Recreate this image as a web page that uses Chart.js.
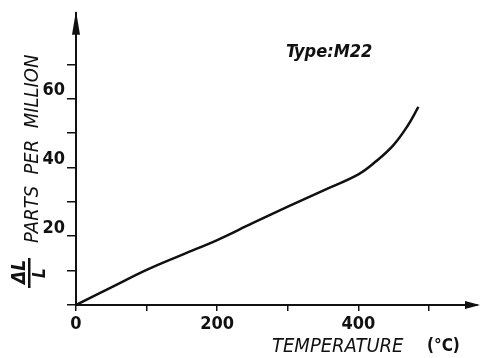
<!DOCTYPE html>
<html>
<head>
<meta charset="utf-8">
<script src="https://cdn.jsdelivr.net/npm/chart.js@4"></script>
<style>
  html, body { margin: 0; padding: 0; background: #fff; }
  #wrap { width: 481px; height: 358px; }
</style>
</head>
<body>
<div id="wrap"><canvas id="chart"></canvas></div>
<script>
// data
const temperature = [0, 50, 100, 150, 200, 250, 300, 350, 400, 425, 450, 470, 485];
const expansion = [0, 5.1, 10.2, 14.6, 18.9, 23.8, 28.6, 33.3, 38, 41.8, 46.6, 52.2, 57.6];
const xLabels = [0, 200, 400];
const yLabels = [20, 40, 60];

const ink = '#111';
const numFont = { family: 'DejaVu Sans Condensed', size: 18, weight: 'bold' };

// arrows + titles drawn on top
const decor = {
  id: 'decor',
  afterDraw(chart) {
    const ctx = chart.ctx;
    const a = chart.chartArea;
    ctx.save();
    ctx.fillStyle = ink;
    // y arrow
    ctx.beginPath();
    ctx.moveTo(a.left, a.top - 2);
    ctx.lineTo(a.left - 4, a.top + 22);
    ctx.lineTo(a.left + 4, a.top + 22);
    ctx.closePath();
    ctx.fill();
    // x arrow
    ctx.beginPath();
    ctx.moveTo(a.right + 3, a.bottom);
    ctx.lineTo(a.right - 12, a.bottom - 4);
    ctx.lineTo(a.right - 12, a.bottom + 4);
    ctx.closePath();
    ctx.fill();

    // x title
    ctx.textBaseline = 'alphabetic';
    ctx.textAlign = 'left';
    ctx.font = 'italic 20px "DejaVu Sans Condensed"';
    ctx.fillText('TEMPERATURE', 272, 352);
    ctx.font = 'bold 17px "DejaVu Sans Condensed"';
    ctx.fillText('(°C)', 427, 351);

    // annotation
    ctx.font = 'italic bold 18px "DejaVu Sans Condensed"';
    ctx.fillText('Type:M22', 286, 57);

    // y title (rotated)
    ctx.save();
    ctx.translate(38, 243);
    ctx.rotate(-Math.PI / 2);
    ctx.font = 'italic 20px "DejaVu Sans Condensed"';
    ctx.fillText('PARTS  PER  MILLION', 0, 0);
    ctx.restore();

    // delta L / L
    ctx.translate(45, 288);
    ctx.rotate(-Math.PI / 2);
    ctx.font = 'italic bold 17px "DejaVu Sans Condensed"';
    ctx.fillText('L', 10, 0);
    ctx.fillRect(0, -17, 30, 2.5);
    ctx.font = 'italic bold 19px "DejaVu Sans Condensed"';
    ctx.fillText('ΔL', 4, -20);
    ctx.restore();
  }
};

new Chart(document.getElementById('chart'), {
  type: 'line',
  data: {
    datasets: [{
      data: temperature.map((t, i) => ({ x: t, y: expansion[i] })),
      borderColor: ink,
      borderWidth: 2.5,
      pointRadius: 0,
      tension: 0.4,
      fill: false
    }]
  },
  options: {
    responsive: true,
    maintainAspectRatio: false,
    animation: false,
    layout: { padding: { left: 0, right: 4, top: 12, bottom: 0 } },
    plugins: { legend: { display: false }, tooltip: { enabled: false } },
    scales: {
      x: {
        type: 'linear',
        min: 0,
        max: 568,
        afterFit(scale) { scale.height = 53; },
        afterBuildTicks(scale) { scale.ticks = scale.ticks.filter(t => t.value % 100 === 0); },
        grid: { drawOnChartArea: false, drawTicks: true, tickLength: 6, color: ink, lineWidth: 1.5 },
        border: { display: true, color: ink, width: 2 },
        ticks: {
          stepSize: 100,
          autoSkip: false,
          maxRotation: 0,
          color: ink,
          padding: 3,
          font: numFont,
          callback: v => xLabels.includes(v) ? String(v) : ''
        }
      },
      y: {
        type: 'linear',
        min: 0,
        max: 85,
        afterFit(scale) { scale.width = 76; },
        afterBuildTicks(scale) { scale.ticks = scale.ticks.filter(t => t.value % 10 === 0); },
        grid: { drawOnChartArea: false, drawTicks: true, tickLength: 9, color: ink, lineWidth: 1.5 },
        border: { display: true, color: ink, width: 2 },
        ticks: {
          stepSize: 10,
          autoSkip: false,
          color: ink,
          padding: 2,
          labelOffset: -8,
          font: numFont,
          callback: v => yLabels.includes(v) ? String(v) : ''
        }
      }
    }
  },
  plugins: [decor]
});
</script>
</body>
</html>
